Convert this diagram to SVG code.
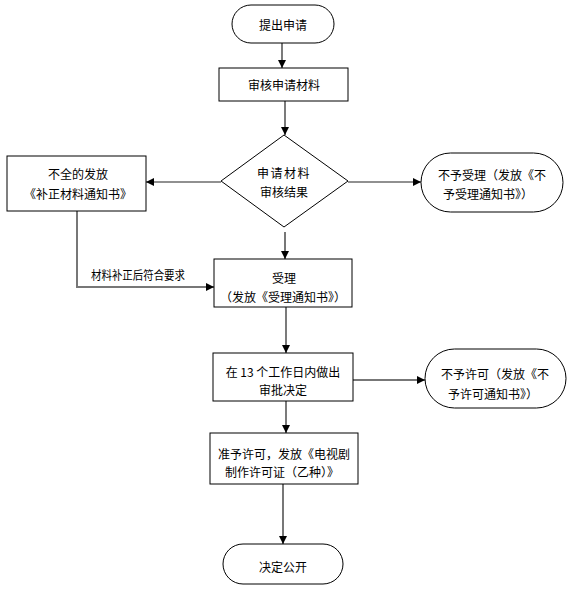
<svg xmlns="http://www.w3.org/2000/svg" width="575" height="592" viewBox="0 0 575 592">
<style>
.n{fill:#fff;stroke:#000;stroke-width:1}
.t{font-family:"Noto Sans CJK SC","Liberation Sans",sans-serif;font-size:12px;fill:#000;text-anchor:middle;dominant-baseline:central}
.d{stroke:#222;stroke-width:1.2;fill:none}
.g{stroke:#777;stroke-width:2;fill:none}
</style>
<defs>
<marker id="a" viewBox="0 0 10 10" refX="10" refY="5" markerWidth="8" markerHeight="8" markerUnits="userSpaceOnUse" orient="auto">
<path d="M0,0 L10,5 L0,10 z" fill="#000"/>
</marker>
</defs>
<rect width="575" height="592" fill="#fff"/>
<g id="connectors">
<line class="d" x1="282" y1="43" x2="282" y2="68" marker-end="url(#a)"/>
<line class="d" x1="285" y1="101" x2="285" y2="135" marker-end="url(#a)"/>
<line class="d" x1="221" y1="182" x2="146" y2="182" marker-end="url(#a)"/>
<line class="d" x1="348" y1="182" x2="421" y2="182" marker-end="url(#a)"/>
<line class="g" x1="285" y1="232" x2="285" y2="259" marker-end="url(#a)"/>
<polyline class="g" points="77,211 77,287 214,287" marker-end="url(#a)"/>
<line class="d" x1="286" y1="307" x2="286" y2="353" marker-end="url(#a)"/>
<line class="g" x1="353" y1="380" x2="425" y2="380" marker-end="url(#a)"/>
<line class="d" x1="286" y1="401" x2="286" y2="433" marker-end="url(#a)"/>
<line class="g" x1="283" y1="484" x2="283" y2="544" marker-end="url(#a)"/>
<text class="t" x="138" y="274" textLength="94" lengthAdjust="spacingAndGlyphs">材料补正后符合要求</text>
</g>
<g id="start">
<rect class="n" x="232" y="5" width="102" height="38" rx="19"/>
<text class="t" x="283" y="24">提出申请</text>
</g>
<g id="review">
<rect class="n" x="219" y="68" width="129" height="33"/>
<text class="t" x="284" y="84">审核申请材料</text>
</g>
<g id="decision">
<polygon class="n" points="284,135 348,181 284,227 221,181"/>
<text class="t" x="284" y="172" style="letter-spacing:1.5px">申请材料</text>
<text class="t" x="284" y="191">审核结果</text>
</g>
<g id="incomplete">
<rect class="n" x="7" y="156" width="139" height="55"/>
<text class="t" x="78" y="173">不全的发放</text>
<text class="t" x="78" y="193">《补正材料通知书》</text>
</g>
<g id="reject-accept">
<rect class="n" x="421" y="153" width="142" height="59" rx="29.5"/>
<text class="t" x="492" y="174">不予受理（发放《不</text>
<text class="t" x="488" y="193">予受理通知书》）</text>
</g>
<g id="accept">
<rect class="n" x="214" y="259" width="138" height="48"/>
<text class="t" x="284" y="277">受理</text>
<text class="t" x="283" y="296">（发放《受理通知书》）</text>
</g>
<g id="decide">
<rect class="n" x="213" y="353" width="140" height="48"/>
<text class="t" x="283" y="371">在 13 个工作日内做出</text>
<text class="t" x="283" y="389">审批决定</text>
</g>
<g id="reject-permit">
<rect class="n" x="425" y="349" width="141" height="59" rx="29.5"/>
<text class="t" x="495" y="373">不予许可（发放《不</text>
<text class="t" x="493" y="393">予许可通知书》）</text>
</g>
<g id="permit">
<rect class="n" x="210" y="433" width="148" height="51"/>
<text class="t" x="284" y="453">准予许可，发放《电视剧</text>
<text class="t" x="282" y="471">制作许可证（乙种）》</text>
</g>
<g id="publish">
<rect class="n" x="223" y="544" width="120" height="40" rx="20"/>
<text class="t" x="283" y="566">决定公开</text>
</g>
</svg>
